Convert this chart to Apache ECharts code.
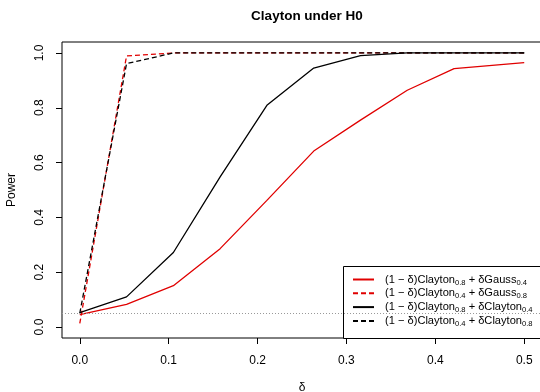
<!DOCTYPE html>
<html><head><meta charset="utf-8">
<script src="https://cdn.jsdelivr.net/npm/echarts@6/dist/echarts.min.js"></script>
<style>html,body{margin:0;padding:0;background:#fff}#c{width:540px;height:392px}</style>
</head><body><div id="c"></div>
<script>
// delta values
var deltas = [0, 0.0526, 0.1053, 0.1579, 0.2105, 0.2632, 0.3158, 0.3684, 0.4211, 0.5];
var powerC08G04 = [0.045, 0.083, 0.151, 0.286, 0.462, 0.642, 0.755, 0.864, 0.943, 0.965];
var powerC04G08 = [0.013, 0.989, 1.0, 1.0, 1.0, 1.0, 1.0, 1.0, 1.0, 1.0];
var powerC08C04 = [0.053, 0.110, 0.272, 0.548, 0.809, 0.945, 0.990, 1.0, 1.0, 1.0];
var powerC04C08 = [0.050, 0.961, 1.0, 1.0, 1.0, 1.0, 1.0, 1.0, 1.0, 1.0];
var xTicks = [0, 0.1, 0.2, 0.3, 0.4, 0.5];
var yTicks = [0, 0.2, 0.4, 0.6, 0.8, 1.0];
var nominalLevel = 0.05;
var names = ['s1','s2','s3','s4'];
var legendRich = [
  '(1 − δ)Clayton{sub|0.8} + δGauss{sub|0.4}',
  '(1 − δ)Clayton{sub|0.4} + δGauss{sub|0.8}',
  '(1 − δ)Clayton{sub|0.8} + δClayton{sub|0.4}',
  '(1 − δ)Clayton{sub|0.4} + δClayton{sub|0.8}'
];
function pairs(ys){ return deltas.map(function(x,i){ return [x, ys[i]]; }); }
var RED = '#E00000';
var FONT = 'Liberation Sans, Arial, sans-serif';
var chart = echarts.init(document.getElementById('c'), null, {renderer:'canvas'});
function mk(name, ys, color, dashed){
  return {name:name, type:'line', data:pairs(ys), symbol:'none', z:2,
    lineStyle:{color:color, width:1.3, type: dashed ? [5,3] : 'solid'},
    itemStyle:{color:color}, animation:false};
}
var series = [
  mk(names[0], powerC08G04, RED, false),
  mk(names[1], powerC04G08, RED, true),
  mk(names[2], powerC08C04, '#000', false),
  mk(names[3], powerC04C08, '#000', true)
];
series[0].markLine = {silent:true, symbol:'none', label:{show:false},
  lineStyle:{color:'#999', type:[1,2], width:1}, data:[{yAxis:nominalLevel}], animation:false};
chart.setOption({
  animation:false,
  backgroundColor:'#fff',
  title:{text:'Clayton under H0', left:302, top:4, textAlign:'center',
    textStyle:{fontFamily:FONT, fontWeight:'bold', fontSize:13.5, color:'#000'}},
  grid:{left:62, top:42, width:480, height:296, show:true, borderColor:'#000', borderWidth:1,
    backgroundColor:'transparent', outerBoundsMode:'none', containLabel:false},
  xAxis:{type:'value', min:-0.02, max:0.52, name:'δ', nameLocation:'middle', nameGap:44,
    nameTextStyle:{fontFamily:FONT, fontSize:12, color:'#000'},
    axisLine:{show:false, onZero:false}, splitLine:{show:false},
    axisTick:{show:true, customValues:xTicks, length:6, lineStyle:{color:'#000'}},
    axisLabel:{customValues:xTicks, margin:17, fontFamily:FONT, fontSize:12, color:'#000',
      formatter:function(v){return v.toFixed(1);}}},
  yAxis:{type:'value', min:-0.04, max:1.04, name:'Power', nameLocation:'middle', nameGap:44,
    nameTextStyle:{fontFamily:FONT, fontSize:12, color:'#000'},
    axisLine:{show:false, onZero:false}, splitLine:{show:false},
    axisTick:{show:true, customValues:yTicks, length:6, lineStyle:{color:'#000'}},
    axisLabel:{customValues:yTicks, rotate:90, margin:16, fontFamily:FONT, fontSize:12, color:'#000',
      formatter:function(v){return v.toFixed(1);}}},
  legend:{orient:'vertical', left:352, top:274, padding:0, itemWidth:21, itemHeight:10, itemGap:1.3,
    data:names, selectedMode:false, z:5,
    itemStyle:{opacity:0},
    formatter:function(n){ return legendRich[names.indexOf(n)]; },
    textStyle:{fontFamily:FONT, fontSize:11.1, color:'#000', padding:[0,0,0,6], overflow:'none',
      rich:{sub:{fontSize:7.6, fontFamily:FONT, color:'#000', padding:[6,0,0,0]}}}},
  graphic:[{type:'rect', left:343, top:266, shape:{width:200, height:72}, z:4, zlevel:0,
    style:{fill:'#fff', stroke:'#000', lineWidth:1}}],
  series:series
});
</script></body></html>
